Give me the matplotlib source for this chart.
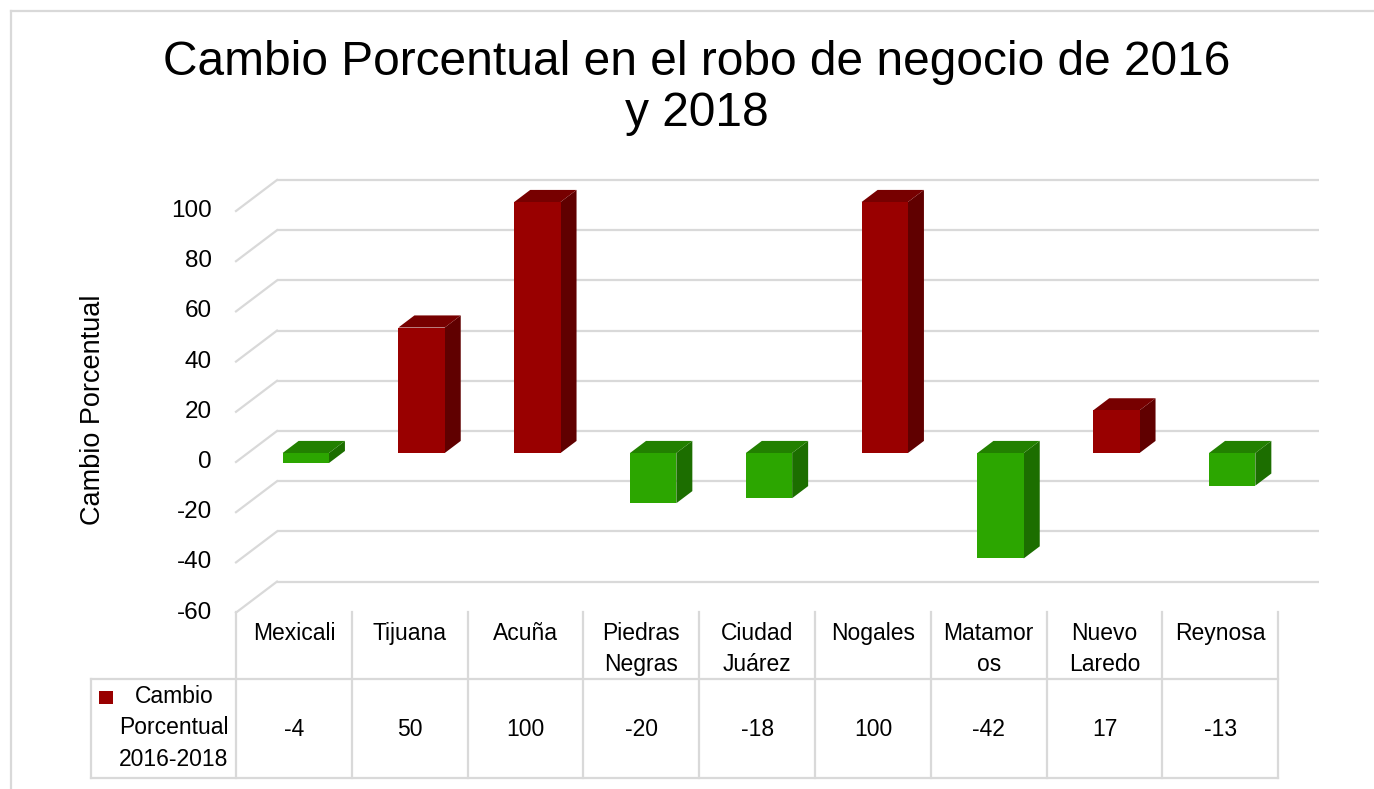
import matplotlib
matplotlib.use("Agg")
import matplotlib.pyplot as plt
from matplotlib.patches import Polygon
from matplotlib.transforms import blended_transform_factory

plt.rcParams['font.family'] = ['Liberation Sans', 'DejaVu Sans']

# ---- data ----
categories = ["Mexicali", "Tijuana", "Acuña", "Piedras\nNegras", "Ciudad\nJuárez",
              "Nogales", "Matamor\nos", "Nuevo\nLaredo", "Reynosa"]
values = [-4, 50, 100, -20, -18, 100, -42, 17, -13]
value_labels = ["-4", "50", "100", "-20", "-18", "100", "-42", "17", "-13"]
yticks = [-60, -40, -20, 0, 20, 40, 60, 80, 100]
series_name = "Cambio\nPorcentual\n2016-2018"
title = "Cambio Porcentual en el robo de negocio de 2016\ny 2018"
ylabel = "Cambio Porcentual"

# ---- colours ----
RED = ("#990000", "#770000", "#600000")      # front, top, side
GREEN = ("#2ca600", "#228000", "#1c6e00")
GRID = "#d9d9d9"

W, H = 1374, 789
fig = plt.figure(figsize=(W / 100, H / 100), dpi=100)
ax = fig.add_axes([0, 0, 1, 1])
ax.axis("off")

# pixel layout of the plot (front plane)
X0_PX, COL_PX = 236, 115.8
Y0_PX, UNIT_PX = 462, 2.51
def px2x(px):
    return (px - X0_PX) / COL_PX
def px2y(py):
    return (Y0_PX - py) / UNIT_PX

ax.set_xlim(px2x(0), px2x(W))
ax.set_ylim(px2y(H), px2y(0))

DX = 41 / COL_PX          # depth offset in category units
DY = 31 / UNIT_PX         # depth offset in value units
n = len(categories)

# ---- walls / gridlines ----
for t in yticks:
    ax.plot([DX, n + DX], [t + DY, t + DY], color=GRID, lw=1.6, zorder=1,
            solid_capstyle="butt")
    ax.plot([0, DX], [t, t + DY], color=GRID, lw=1.6, zorder=1)
    ax.text(px2x(212), t, str(t), ha="right", va="center", fontsize=17.5)

# ---- 3D bars ----
bw = 0.4
d0, d1 = 0.29, 0.68
for i, v in enumerate(values):
    front, top, side = RED if v >= 0 else GREEN
    x0 = i + 0.5 - bw / 2
    x1 = i + 0.5 + bw / 2
    lo, hi = min(v, 0), max(v, 0)
    # side
    ax.add_patch(Polygon([(x1 + d0 * DX, lo + d0 * DY), (x1 + d1 * DX, lo + d1 * DY),
                          (x1 + d1 * DX, hi + d1 * DY), (x1 + d0 * DX, hi + d0 * DY)],
                         closed=True, facecolor=side, edgecolor="none", zorder=3))
    # top
    ax.add_patch(Polygon([(x0 + d0 * DX, hi + d0 * DY), (x1 + d0 * DX, hi + d0 * DY),
                          (x1 + d1 * DX, hi + d1 * DY), (x0 + d1 * DX, hi + d1 * DY)],
                         closed=True, facecolor=top, edgecolor="none", zorder=3))
    # front
    ax.bar(x0 + d0 * DX, v, width=bw, bottom=d0 * DY, align="edge",
           color=front, edgecolor="none", zorder=4)

# ---- data table ----
tr = blended_transform_factory(ax.transData, fig.transFigure)
def fy(py):
    return 1 - py / H

top_px, mid_px, bot_px = 612, 679, 778
left_px = 91
for k in range(n + 1):
    ax.plot([k, k], [fy(top_px), fy(bot_px)], color=GRID, lw=1.6, transform=tr,
            zorder=1)
for yy in (mid_px, bot_px):
    ax.plot([px2x(left_px), n], [fy(yy), fy(yy)], color=GRID, lw=1.6, transform=tr,
            zorder=1)
ax.plot([px2x(left_px), px2x(left_px)], [fy(mid_px), fy(bot_px)], color=GRID, lw=1.6,
        transform=tr, zorder=1)

for i, (c, lab) in enumerate(zip(categories, value_labels)):
    ax.text(i + 0.5, fy(622), c, ha="center", va="top", fontsize=16.5,
            linespacing=1.45, transform=tr)
    ax.text(i + 0.5, fy(729), lab, ha="center", va="center", fontsize=16.5,
            transform=tr)

# legend key + series name
ax.add_patch(plt.Rectangle((px2x(99), fy(704)), px2x(113) - px2x(99), fy(691) - fy(704),
                           facecolor=RED[0], edgecolor="none", transform=tr))
ax.text(px2x(174), fy(728), series_name, ha="center", va="center", fontsize=16.5,
        linespacing=1.45, transform=tr)

# ---- title, axis label, border ----
fig.text(697 / W, fy(88), title, ha="center", va="center", fontsize=34.5,
         linespacing=1.18)
fig.text(93 / W, fy(410), ylabel, ha="center", va="center", fontsize=19.5,
         rotation=90)
fig.add_artist(plt.Line2D([11 / W, 11 / W], [fy(11), 0], color=GRID, lw=1.6))
fig.add_artist(plt.Line2D([11 / W, 1], [fy(11), fy(11)], color=GRID, lw=1.6))

fig.savefig("out.png", dpi=100, facecolor="white")
